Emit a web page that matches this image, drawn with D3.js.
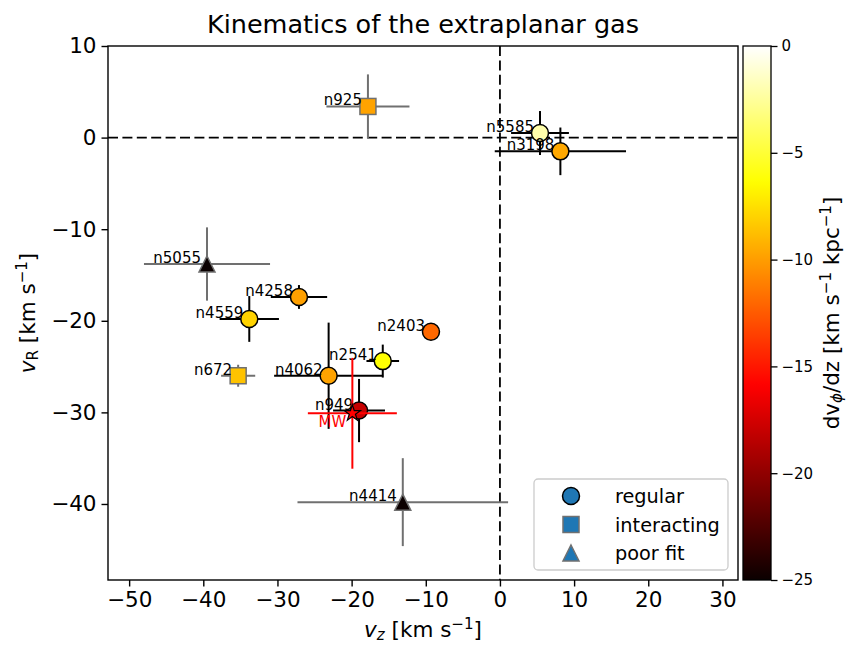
<!DOCTYPE html>
<html><head><meta charset="utf-8">
<script src="https://cdn.jsdelivr.net/npm/d3@7"></script>
<style>body{margin:0;background:#fff}svg{font-family:"DejaVu Sans",sans-serif}</style>
</head><body>
<svg id="c" width="849" height="646"></svg>
<script>
const names = ["n925","n5585","n3198","n5055","n4258","n4559","n2403","n2541","n4062","n672","n949","n4414"];
const vz    = [-17.8, 5.4, 8.15, -39.5, -27.1, -33.8, -9.3, -15.8, -23.1, -35.3, -19.0, -13.1];
const vzErr = [5.6, 3.9, 8.85, 8.5, 3.8, 4.0, 0, 2.2, 7.35, 2.3, 3.5, 14.2];
const vR    = [3.4, 0.5, -1.5, -13.8, -17.4, -19.8, -21.2, -24.4, -26.0, -26.0, -29.8, -39.8];
const vRErr = [3.5, 2.4, 2.6, 4.0, 1.3, 2.5, 0, 1.8, 5.8, 1.2, 3.45, 4.8];
const dvdz  = [-9.8, -2.1, -9.6, -25, -9.9, -8.0, -12.0, -6.3, -9.8, -8.6, -18.0, -25];
const kind  = ["interacting","regular","regular","poor","regular","regular","regular","regular","regular","interacting","regular","poor"];
const mw = {vz:-19.9, vzErr:6.0, vR:-30.1, vRErr:6.05, label:"MW"};
const xTicks = [-50,-40,-30,-20,-10,0,10,20,30];
const yTicks = [-40,-30,-20,-10,0,10];
const cTicks = [0,-5,-10,-15,-20,-25];
const legendItems = [["regular","circle"],["interacting","square"],["poor fit","triangle"]];

const svg = d3.select("#c");
const L=108,R=738,T=46,B=580;
const FT=21.5, FS=15, FL=19.3, FTitle=25.5;
const x = d3.scaleLinear([-52.85,32.1],[L,R]);
const y = d3.scaleLinear([-48.3,10],[B,T]);
const cnorm = d3.scaleLinear([-25,0],[0,1]).clamp(true);
function hot(t){
  const cl=v=>Math.max(0,Math.min(1,v));
  const r = t<0.365079 ? 0.0416+(1-0.0416)*t/0.365079 : 1;
  const g = cl((t-0.365079)/(0.746032-0.365079));
  const b = cl((t-0.746032)/(1-0.746032));
  return d3.rgb(r*255,g*255,b*255).formatHex();
}
const color = v=>hot(cnorm(v));
const minus = v=> (v<0?"\u2212":"")+Math.abs(v);

svg.append("rect").attr("width",849).attr("height",646).attr("fill","#fff");

// reference lines
svg.append("line").attr("x1",x(0)).attr("x2",x(0)).attr("y1",T).attr("y2",B)
  .attr("stroke","#000").attr("stroke-width",1.8).attr("stroke-dasharray","10,4.4");
svg.append("line").attr("x1",L).attr("x2",R).attr("y1",y(0)).attr("y2",y(0))
  .attr("stroke","#000").attr("stroke-width",1.8).attr("stroke-dasharray","10,4.4");

const plot = svg.append("g");
const edge = k => k==="regular" ? "#000" : "#707070";
names.forEach((n,i)=>{
  const g = plot.append("g");
  const cx=x(vz[i]), cy=y(vR[i]), ec=edge(kind[i]);
  if(vzErr[i]>0) g.append("line").attr("x1",x(vz[i]-vzErr[i])).attr("x2",x(vz[i]+vzErr[i])).attr("y1",cy).attr("y2",cy).attr("stroke",ec).attr("stroke-width",2);
  if(vRErr[i]>0) g.append("line").attr("x1",cx).attr("x2",cx).attr("y1",y(vR[i]-vRErr[i])).attr("y2",y(vR[i]+vRErr[i])).attr("stroke",ec).attr("stroke-width",2);
  const fill=color(dvdz[i]);
  if(kind[i]==="regular") g.append("circle").attr("cx",cx).attr("cy",cy).attr("r",8.5).attr("fill",fill).attr("stroke",ec).attr("stroke-width",1.5);
  else if(kind[i]==="interacting") g.append("rect").attr("x",cx-8).attr("y",cy-8).attr("width",16).attr("height",16).attr("fill",fill).attr("stroke",ec).attr("stroke-width",1.5);
  else g.append("path").attr("d",`M${cx},${cy-8}L${cx+8},${cy+8}L${cx-8},${cy+8}Z`).attr("fill",fill).attr("stroke",ec).attr("stroke-width",1.5);
  g.append("text").attr("x",cx-6).attr("y",cy-1).attr("text-anchor","end").attr("font-size",FS).attr("fill","#000").text(n);
});
// MW
{
  const g=plot.append("g"); const cx=x(mw.vz), cy=y(mw.vR);
  g.append("line").attr("x1",x(mw.vz-mw.vzErr)).attr("x2",x(mw.vz+mw.vzErr)).attr("y1",cy).attr("y2",cy).attr("stroke","#ff0000").attr("stroke-width",2);
  g.append("line").attr("x1",cx).attr("x2",cx).attr("y1",y(mw.vR-mw.vRErr)).attr("y2",y(mw.vR+mw.vRErr)).attr("stroke","#ff0000").attr("stroke-width",2);
  g.append("path").attr("d",d3.symbol(d3.symbolStar, 8.5*8.5/0.8908130915292852)()).attr("transform",`translate(${cx},${cy})`)
    .attr("fill","#ff0000").attr("stroke","#000").attr("stroke-width",1.2);
  g.append("text").attr("x",cx-6).attr("y",cy+14).attr("text-anchor","end").attr("font-size",FS).attr("fill","#ff0000").text(mw.label);
}

// frame
svg.append("rect").attr("x",L).attr("y",T).attr("width",R-L).attr("height",B-T).attr("fill","none").attr("stroke","#000").attr("stroke-width",1.4);

// axes
const xa = svg.append("g").attr("transform",`translate(0,${B})`)
  .call(d3.axisBottom(x).tickValues(xTicks).tickFormat(minus).tickSize(6.5).tickPadding(5));
const ya = svg.append("g").attr("transform",`translate(${L},0)`)
  .call(d3.axisLeft(y).tickValues(yTicks).tickFormat(minus).tickSize(6.5).tickPadding(5));
[xa,ya].forEach(a=>{a.select(".domain").remove();a.selectAll("line").attr("stroke","#000").attr("stroke-width",1.4);
  a.selectAll("text").attr("font-size",FT).attr("font-family","DejaVu Sans").attr("fill","#000");});

// legend
const lg = svg.append("g");
lg.append("rect").attr("x",534).attr("y",479).attr("width",194).attr("height",91).attr("rx",4)
  .attr("fill","#fff").attr("fill-opacity",0.8).attr("stroke","#cccccc").attr("stroke-width",1.3);
legendItems.forEach(([lab,shape],i)=>{
  const cy=496+i*28.5, cx=571, blue="#1f77b4";
  if(shape==="circle") lg.append("circle").attr("cx",cx).attr("cy",cy).attr("r",8.5).attr("fill",blue).attr("stroke","#000").attr("stroke-width",1.5);
  else if(shape==="square") lg.append("rect").attr("x",cx-8).attr("y",cy-8).attr("width",16).attr("height",16).attr("fill",blue).attr("stroke","#707070").attr("stroke-width",1.5);
  else lg.append("path").attr("d",`M${cx},${cy-8}L${cx+8},${cy+8}L${cx-8},${cy+8}Z`).attr("fill",blue).attr("stroke","#707070").attr("stroke-width",1.5);
  lg.append("text").attr("x",615).attr("y",cy+7).attr("font-size",FL).attr("fill","#000").text(lab);
});

// colorbar
const CL=743, CR=771;
const defs=svg.append("defs");
const grad=defs.append("linearGradient").attr("id","hot").attr("x1",0).attr("x2",0).attr("y1",1).attr("y2",0);
d3.range(0,1.0001,0.01).forEach(t=>grad.append("stop").attr("offset",t).attr("stop-color",hot(t)));
svg.append("rect").attr("x",CL).attr("y",T).attr("width",CR-CL).attr("height",B-T).attr("fill","url(#hot)").attr("stroke","#000").attr("stroke-width",1.3);
const cy = d3.scaleLinear([-25,0],[B,T]);
const ca = svg.append("g").attr("transform",`translate(${CR},0)`)
  .call(d3.axisRight(cy).tickValues(cTicks).tickFormat(minus).tickSize(6.5).tickPadding(4));
ca.select(".domain").remove();
ca.selectAll("line").attr("stroke","#000").attr("stroke-width",1.3);
ca.selectAll("text").attr("font-size",FS).attr("font-family","DejaVu Sans").attr("fill","#000");

// titles
svg.append("text").attr("x",(L+R)/2).attr("y",33).attr("text-anchor","middle").attr("font-size",FTitle).attr("fill","#000").text("Kinematics of the extraplanar gas");
const SS=FT*0.7;
const xl = svg.append("text").attr("x",(L+R)/2).attr("y",637).attr("text-anchor","middle").attr("font-size",FT).attr("fill","#000");
xl.append("tspan").attr("font-style","italic").text("v");
xl.append("tspan").attr("font-style","italic").attr("font-size",SS).attr("dy",3).text("z");
xl.append("tspan").attr("dy",-3).text(" [km s");
xl.append("tspan").attr("font-size",SS).attr("dy",-8).text("\u22121");
xl.append("tspan").attr("dy",8).text("]");

const yl = svg.append("text").attr("transform",`translate(35,${(T+B)/2}) rotate(-90)`).attr("text-anchor","middle").attr("font-size",FT).attr("fill","#000");
yl.append("tspan").attr("font-style","italic").text("v");
yl.append("tspan").attr("font-size",SS).attr("dy",3).text("R");
yl.append("tspan").attr("dy",-3).text(" [km s");
yl.append("tspan").attr("font-size",SS).attr("dy",-8).text("\u22121");
yl.append("tspan").attr("dy",8).text("]");

const cl = svg.append("text").attr("transform",`translate(839,${(T+B)/2}) rotate(-90)`).attr("text-anchor","middle").attr("font-size",FT).attr("fill","#000");
cl.append("tspan").text("dv");
cl.append("tspan").attr("font-size",SS).attr("dy",3).attr("font-style","italic").text("\u03d5");
cl.append("tspan").attr("dy",-3).text("/dz [km s");
cl.append("tspan").attr("font-size",SS).attr("dy",-8).text("\u22121");
cl.append("tspan").attr("dy",8).text(" kpc");
cl.append("tspan").attr("font-size",SS).attr("dy",-8).text("\u22121");
cl.append("tspan").attr("dy",8).text("]");
</script>
</body></html>
